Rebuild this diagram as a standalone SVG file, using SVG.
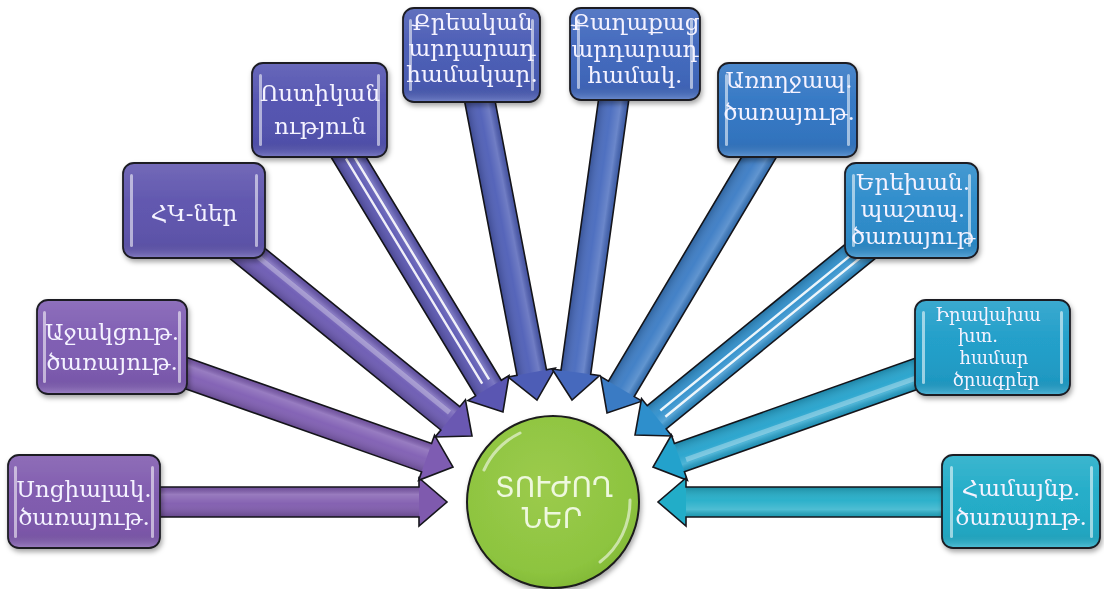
<svg xmlns="http://www.w3.org/2000/svg" width="1104" height="589" viewBox="0 0 1104 589">
<defs>
<style>
.box{stroke:#1c1c24;stroke-width:1.8}
.bar{fill:#ffffff;opacity:0.55}
.gloss{fill:url(#boxgloss)}
.t{font-family:"DejaVu Serif","Liberation Serif",serif;font-size:23px;fill:#f4f2ff;text-anchor:middle}
.ts{font-family:"DejaVu Serif","Liberation Serif",serif;font-size:18px;fill:#f4f2ff;text-anchor:middle}
.arr{stroke:#16161c;stroke-width:1.6;stroke-linejoin:miter}
.sheen{fill:url(#sheen)}
.stripe{stroke:#ffffff;stroke-width:2.4;opacity:0.9;fill:none}
.band{stroke:#ffffff;stroke-width:5;opacity:0.3;fill:none}
.ct{font-family:"DejaVu Sans","Noto Sans",sans-serif;font-size:28px;fill:#eef8de;text-anchor:middle}
</style>
<linearGradient id="sheen" x1="0" y1="0" x2="0" y2="1">
<stop offset="0" stop-color="#000" stop-opacity="0.12"/>
<stop offset="0.25" stop-color="#fff" stop-opacity="0.2"/>
<stop offset="0.55" stop-color="#fff" stop-opacity="0.05"/>
<stop offset="1" stop-color="#000" stop-opacity="0.2"/>
</linearGradient>
<linearGradient id="boxgloss" x1="0" y1="0" x2="0" y2="1">
<stop offset="0" stop-color="#fff" stop-opacity="0.12"/>
<stop offset="0.4" stop-color="#fff" stop-opacity="0.02"/>
<stop offset="0.85" stop-color="#000" stop-opacity="0.04"/>
<stop offset="1" stop-color="#fff" stop-opacity="0.2"/>
</linearGradient>
<radialGradient id="green" cx="0.45" cy="0.4" r="0.6">
<stop offset="0" stop-color="#9ccb4d"/>
<stop offset="0.85" stop-color="#8dc43f"/>
<stop offset="1" stop-color="#84bb38"/>
</radialGradient>
<filter id="shadow" x="-20%" y="-20%" width="140%" height="150%">
<feDropShadow dx="1.5" dy="3" stdDeviation="2.5" flood-color="#000" flood-opacity="0.35"/>
</filter>
</defs>

<g id="connectors">
<g transform="translate(84,502)">
<path class="arr" fill="#7f5aae" d="M0,-15 H335 V-24 L363,0 L335,24 V15 H0 Z"/>
<rect class="sheen" x="0" y="-15" width="335" height="30"/>
</g>
<g transform="translate(112,347) rotate(19.39)">
<path class="arr" fill="#7e5cb2" d="M0,-15 H333.5 V-24 L361.5,0 L333.5,24 V15 H0 Z"/>
<rect class="sheen" x="0" y="-15" width="333.5" height="30"/>
</g>
<g transform="translate(194,210) rotate(39.11)">
<path class="arr" fill="#6a58b2" d="M0,-15 H330.3 V-24 L358.3,0 L330.3,24 V15 H0 Z"/>
<rect class="sheen" x="0" y="-15" width="330.3" height="30"/>
<path class="band" d="M70,-4 H326"/>
</g>
<g transform="translate(320,110) rotate(58.79)">
<path class="arr" fill="#5a56b2" d="M0,-15 H325.1 V-24 L353.1,0 L325.1,24 V15 H0 Z"/>
<rect class="sheen" x="0" y="-15" width="325.1" height="30"/>
<path class="stripe" d="M55,-5 H318 M55,3 H318"/>
</g>
<g transform="translate(471,55) rotate(79.17)">
<path class="arr" fill="#4d5db6" d="M0,-15 H323.3 V-24 L351.3,0 L323.3,24 V15 H0 Z"/>
<rect class="sheen" x="0" y="-15" width="323.3" height="30"/>
</g>
<g transform="translate(620,54) rotate(97.90)">
<path class="arr" fill="#4669bd" d="M0,-15 H321.3 V-24 L349.3,0 L321.3,24 V15 H0 Z"/>
<rect class="sheen" x="0" y="-15" width="321.3" height="30"/>
</g>
<g transform="translate(787,110) rotate(120.71)">
<path class="arr" fill="#3a7bc4" d="M0,-15 H324.4 V-24 L352.4,0 L324.4,24 V15 H0 Z"/>
<rect class="sheen" x="0" y="-15" width="324.4" height="30"/>
</g>
<g transform="translate(911,210) rotate(140.81)">
<path class="arr" fill="#2e8fcc" d="M0,-15 H328.1 V-24 L356.1,0 L328.1,24 V15 H0 Z"/>
<rect class="sheen" x="0" y="-15" width="328.1" height="30"/>
<path class="stripe" d="M60,-5 H321 M60,3 H321"/>
</g>
<g transform="translate(992,347) rotate(160.51)">
<path class="arr" fill="#23a2cc" d="M0,-15 H331.6 V-24 L359.6,0 L331.6,24 V15 H0 Z"/>
<rect class="sheen" x="0" y="-15" width="331.6" height="30"/>
<path class="band" d="M80,-4 H326"/>
</g>
<g transform="translate(1021,502) rotate(180)">
<path class="arr" fill="#22adc8" d="M0,-15 H335 V-24 L363,0 L335,24 V15 H0 Z"/>
<rect class="sheen" x="0" y="-15" width="335" height="30"/>
</g>
</g>

<g id="n1" filter="url(#shadow)">
<rect class="box" x="8" y="455" width="152" height="93" rx="11" fill="#7f5aae"/>
<rect class="gloss" x="9" y="456" width="150" height="91" rx="10"/>
<rect class="bar" x="14" y="466" width="3" height="72" rx="1.5"/>
<rect class="bar" x="151" y="466" width="3" height="72" rx="1.5"/>
<text class="t" x="84" y="497">Սոցիալակ.</text>
<text class="t" x="84" y="525">ծառայութ.</text>
</g>
<g id="n2" filter="url(#shadow)">
<rect class="box" x="37" y="300" width="150" height="94" rx="11" fill="#7e5cb2"/>
<rect class="gloss" x="38" y="301" width="148" height="92" rx="10"/>
<rect class="bar" x="43" y="311" width="3" height="72" rx="1.5"/>
<rect class="bar" x="178" y="311" width="3" height="72" rx="1.5"/>
<text class="t" x="112" y="340">Աջակցութ.</text>
<text class="t" x="112" y="370">ծառայութ.</text>
</g>
<g id="n3" filter="url(#shadow)">
<rect class="box" x="123" y="163" width="142" height="95" rx="11" fill="#5f55ae"/>
<rect class="gloss" x="124" y="164" width="140" height="93" rx="10"/>
<rect class="bar" x="130" y="174" width="3" height="73" rx="1.5"/>
<rect class="bar" x="255" y="174" width="3" height="73" rx="1.5"/>
<text class="t" x="194" y="221">ՀԿ-ներ</text>
</g>
<g id="n4" filter="url(#shadow)">
<rect class="box" x="252" y="63" width="135" height="94" rx="11" fill="#5353b0"/>
<rect class="gloss" x="253" y="64" width="133" height="92" rx="10"/>
<rect class="bar" x="259" y="74" width="3" height="72" rx="1.5"/>
<rect class="bar" x="377" y="74" width="3" height="72" rx="1.5"/>
<text class="t" x="320" y="101">Ոստիկան</text>
<text class="t" x="320" y="134">ություն</text>
</g>
<g id="n5" filter="url(#shadow)">
<rect class="box" x="403" y="8" width="137" height="94" rx="11" fill="#4a5cb5"/>
<rect class="gloss" x="404" y="9" width="135" height="92" rx="10"/>
<rect class="bar" x="409" y="19" width="3" height="72" rx="1.5"/>
<rect class="bar" x="531" y="19" width="3" height="72" rx="1.5"/>
<text class="t" x="472" y="30">Քրեական</text>
<text class="t" x="472" y="56">արդարադ</text>
<text class="t" x="472" y="82">համակար.</text>
</g>
<g id="n6" filter="url(#shadow)">
<rect class="box" x="570" y="8" width="130" height="92" rx="11" fill="#4168bd"/>
<rect class="gloss" x="571" y="9" width="128" height="90" rx="10"/>
<rect class="bar" x="577" y="19" width="3" height="70" rx="1.5"/>
<rect class="bar" x="690" y="19" width="3" height="70" rx="1.5"/>
<text class="t" x="635" y="30">Քաղաքաց</text>
<text class="t" x="635" y="57">արդարադ</text>
<text class="t" x="635" y="83">համակ.</text>
</g>
<g id="n7" filter="url(#shadow)">
<rect class="box" x="718" y="63" width="139" height="94" rx="11" fill="#3377c4"/>
<rect class="gloss" x="719" y="64" width="137" height="92" rx="10"/>
<rect class="bar" x="725" y="74" width="3" height="72" rx="1.5"/>
<rect class="bar" x="847" y="74" width="3" height="72" rx="1.5"/>
<text class="t" x="789" y="88">Առողջապ.</text>
<text class="t" x="789" y="120">ծառայութ.</text>
</g>
<g id="n8" filter="url(#shadow)">
<rect class="box" x="845" y="163" width="133" height="95" rx="11" fill="#2d8ccb"/>
<rect class="gloss" x="846" y="164" width="131" height="93" rx="10"/>
<rect class="bar" x="852" y="174" width="3" height="73" rx="1.5"/>
<rect class="bar" x="968" y="174" width="3" height="73" rx="1.5"/>
<text class="t" x="913" y="190">Երեխան.</text>
<text class="t" x="913" y="217">պաշտպ.</text>
<text class="t" x="913" y="244">ծառայութ</text>
</g>
<g id="n9" filter="url(#shadow)">
<rect class="box" x="915" y="300" width="155" height="95" rx="11" fill="#209ec9"/>
<rect class="gloss" x="916" y="301" width="153" height="93" rx="10"/>
<rect class="bar" x="922" y="311" width="3" height="73" rx="1.5"/>
<rect class="bar" x="1060" y="311" width="3" height="73" rx="1.5"/>
<text class="ts" x="988" y="321">Իրավախա</text>
<text class="ts" x="978" y="342">խտ.</text>
<text class="ts" x="994" y="364">համար</text>
<text class="ts" x="996" y="386">ծրագրեր</text>
</g>
<g id="n10" filter="url(#shadow)">
<rect class="box" x="942" y="455" width="158" height="93" rx="11" fill="#21acc8"/>
<rect class="gloss" x="943" y="456" width="156" height="91" rx="10"/>
<rect class="bar" x="950" y="466" width="3" height="72" rx="1.5"/>
<rect class="bar" x="1090" y="466" width="3" height="72" rx="1.5"/>
<text class="t" x="1021" y="496">Համայնք.</text>
<text class="t" x="1021" y="525">ծառայութ.</text>
</g>

<g id="center" filter="url(#shadow)">
<circle cx="553" cy="502" r="86" fill="url(#green)" stroke="#1c1c1c" stroke-width="2"/>
<path d="M484,470 A77,77 0 0 1 520,433" fill="none" stroke="#ffffff" stroke-width="3" stroke-linecap="round" opacity="0.55"/>
<path d="M630,500 A77,77 0 0 1 600,562" fill="none" stroke="#ffffff" stroke-width="3" stroke-linecap="round" opacity="0.55"/>
<text class="ct" x="554" y="497">ՏՈՒԺՈՂ</text>
<text class="ct" x="552" y="528">ՆԵՐ</text>
</g>
</svg>
